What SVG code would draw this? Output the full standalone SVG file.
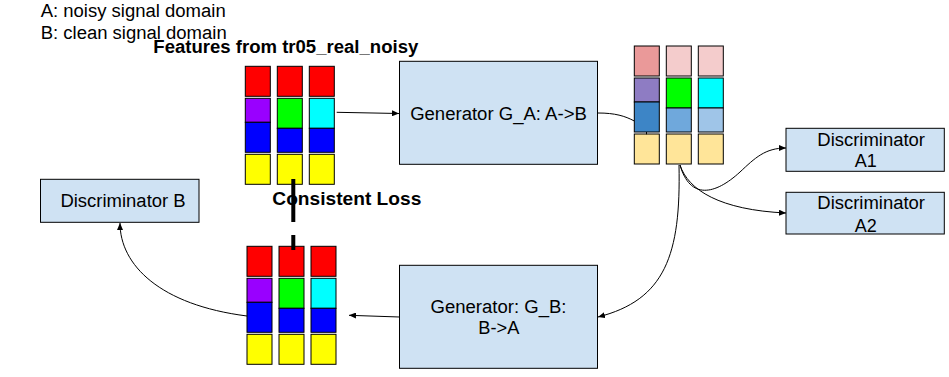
<svg xmlns="http://www.w3.org/2000/svg" width="949" height="377" viewBox="0 0 949 377">
<defs>
<style>
.t{font-family:"Liberation Sans",Arial,sans-serif;font-size:18px;fill:#000}
.b{font-weight:bold}
.box{fill:#cfe2f3;stroke:#000;stroke-width:1}
.c{stroke:#000;stroke-width:1}
.con{fill:none;stroke:#000;stroke-width:1}
</style>
<marker id="ah" markerWidth="8" markerHeight="6" refX="7" refY="3" orient="auto" markerUnits="userSpaceOnUse">
<path d="M0,0 L7,3 L0,6 Z" fill="#000"/>
</marker>
</defs>
<rect width="949" height="377" fill="#fff"/>

<g id="legend">
<text class="t" x="40.7" y="17" textLength="185" lengthAdjust="spacingAndGlyphs">A: noisy signal domain</text>
<text class="t" x="40.7" y="39" textLength="186" lengthAdjust="spacingAndGlyphs">B: clean signal domain</text>
</g>

<g id="features-title">
<text class="t b" x="153.3" y="53.3" textLength="265" lengthAdjust="spacingAndGlyphs">Features from tr05_real_noisy</text>
</g>

<g id="features-input" transform="translate(245.3,66.3)">
<rect class="c" x="0" y="0" width="25" height="30" fill="#ff0000"/>
<rect class="c" x="32" y="0" width="25" height="30" fill="#ff0000"/>
<rect class="c" x="64" y="0" width="25" height="30" fill="#ff0000"/>
<rect class="c" x="0" y="32" width="25" height="24" fill="#9900ff"/>
<rect class="c" x="0" y="56" width="25" height="30" fill="#0000ff"/>
<rect class="c" x="32" y="32" width="25" height="30" fill="#00ff00"/>
<rect class="c" x="32" y="62" width="25" height="24" fill="#0000ff"/>
<rect class="c" x="64" y="32" width="25" height="30" fill="#00ffff"/>
<rect class="c" x="64" y="62" width="25" height="24" fill="#0000ff"/>
<rect class="c" x="0" y="88" width="25" height="30" fill="#ffff00"/>
<rect class="c" x="32" y="88" width="25" height="30" fill="#ffff00"/>
<rect class="c" x="64" y="88" width="25" height="30" fill="#ffff00"/>
</g>

<g id="features-generated" transform="translate(634.3,46)">
<rect class="c" x="0" y="0" width="25" height="30" fill="#ea9999"/>
<rect class="c" x="32" y="0" width="25" height="30" fill="#f4cccc"/>
<rect class="c" x="64" y="0" width="25" height="30" fill="#f4cccc"/>
<rect class="c" x="0" y="32" width="25" height="24" fill="#8e7cc3"/>
<rect class="c" x="0" y="56" width="25" height="30" fill="#3d85c6"/>
<rect class="c" x="32" y="32" width="25" height="30" fill="#00ff00"/>
<rect class="c" x="32" y="62" width="25" height="24" fill="#6fa8dc"/>
<rect class="c" x="64" y="32" width="25" height="30" fill="#00ffff"/>
<rect class="c" x="64" y="62" width="25" height="24" fill="#9fc5e8"/>
<rect class="c" x="0" y="88" width="25" height="30" fill="#ffe599"/>
<rect class="c" x="32" y="88" width="25" height="30" fill="#ffe599"/>
<rect class="c" x="64" y="88" width="25" height="30" fill="#ffe599"/>
</g>

<g id="features-reconstructed" transform="translate(247,246.3)">
<rect class="c" x="0" y="0" width="25" height="30" fill="#ff0000"/>
<rect class="c" x="32" y="0" width="25" height="30" fill="#ff0000"/>
<rect class="c" x="64" y="0" width="25" height="30" fill="#ff0000"/>
<rect class="c" x="0" y="32" width="25" height="24" fill="#9900ff"/>
<rect class="c" x="0" y="56" width="25" height="30" fill="#0000ff"/>
<rect class="c" x="32" y="32" width="25" height="30" fill="#00ff00"/>
<rect class="c" x="32" y="62" width="25" height="24" fill="#0000ff"/>
<rect class="c" x="64" y="32" width="25" height="30" fill="#00ffff"/>
<rect class="c" x="64" y="62" width="25" height="24" fill="#0000ff"/>
<rect class="c" x="0" y="88" width="25" height="30" fill="#ffff00"/>
<rect class="c" x="32" y="88" width="25" height="30" fill="#ffff00"/>
<rect class="c" x="64" y="88" width="25" height="30" fill="#ffff00"/>
</g>

<g id="generator-a">
<rect class="box" x="399.5" y="61.3" width="198" height="103"/>
<text class="t" x="498.5" y="120" text-anchor="middle" textLength="176.7" lengthAdjust="spacingAndGlyphs">Generator G_A: A-&gt;B</text>
</g>

<g id="generator-b">
<rect class="box" x="399.5" y="265.3" width="198" height="103"/>
<text class="t" x="498.5" y="312.7" text-anchor="middle" textLength="136" lengthAdjust="spacingAndGlyphs">Generator: G_B:</text>
<text class="t" x="498.8" y="334.3" text-anchor="middle" textLength="41" lengthAdjust="spacingAndGlyphs">B-&gt;A</text>
</g>

<g id="discriminator-b">
<rect class="box" x="40.5" y="179.3" width="158.5" height="43"/>
<text class="t" x="60.4" y="206.7" textLength="125.3" lengthAdjust="spacingAndGlyphs">Discriminator B</text>
</g>

<g id="discriminator-a1">
<rect class="box" x="786" y="128.3" width="158.3" height="43"/>
<text class="t" x="817.3" y="145.7" textLength="107.7" lengthAdjust="spacingAndGlyphs">Discriminator</text>
<text class="t" x="854.7" y="167.3">A1</text>
</g>

<g id="discriminator-a2">
<rect class="box" x="786" y="192.3" width="158.3" height="41.7"/>
<text class="t" x="817.3" y="209.3" textLength="107.7" lengthAdjust="spacingAndGlyphs">Discriminator</text>
<text class="t" x="854.7" y="231.7">A2</text>
</g>

<g id="connectors">
<path class="con" d="M336.7,112.3 L399,113.5" marker-end="url(#ah)"/>
<path class="con" d="M598,113 C615,113 625,116 634.3,121"/>
<path class="con" d="M646.5,132 L646.5,134.3"/>
<path class="con" d="M680,165 C690,200 715,195 740,172 C755,158 765,148 786,148" marker-end="url(#ah)"/>
<path class="con" d="M680,165 C688,190 720,210 786,213" marker-end="url(#ah)"/>
<path class="con" d="M679,165 C681,255 665,300 598,317" marker-end="url(#ah)"/>
<path class="con" d="M399.6,317 L349,315.3" marker-end="url(#ah)"/>
<path class="con" d="M247,316 C160,305 120,265 120,223" marker-end="url(#ah)"/>
<path d="M293.3,179 L293.3,250" fill="none" stroke="#000" stroke-width="4" stroke-dasharray="43 13 20"/>
</g>

<g id="consistent-loss">
<text class="t b" x="272.3" y="205" textLength="149" lengthAdjust="spacingAndGlyphs">Consistent Loss</text>
</g>
</svg>
